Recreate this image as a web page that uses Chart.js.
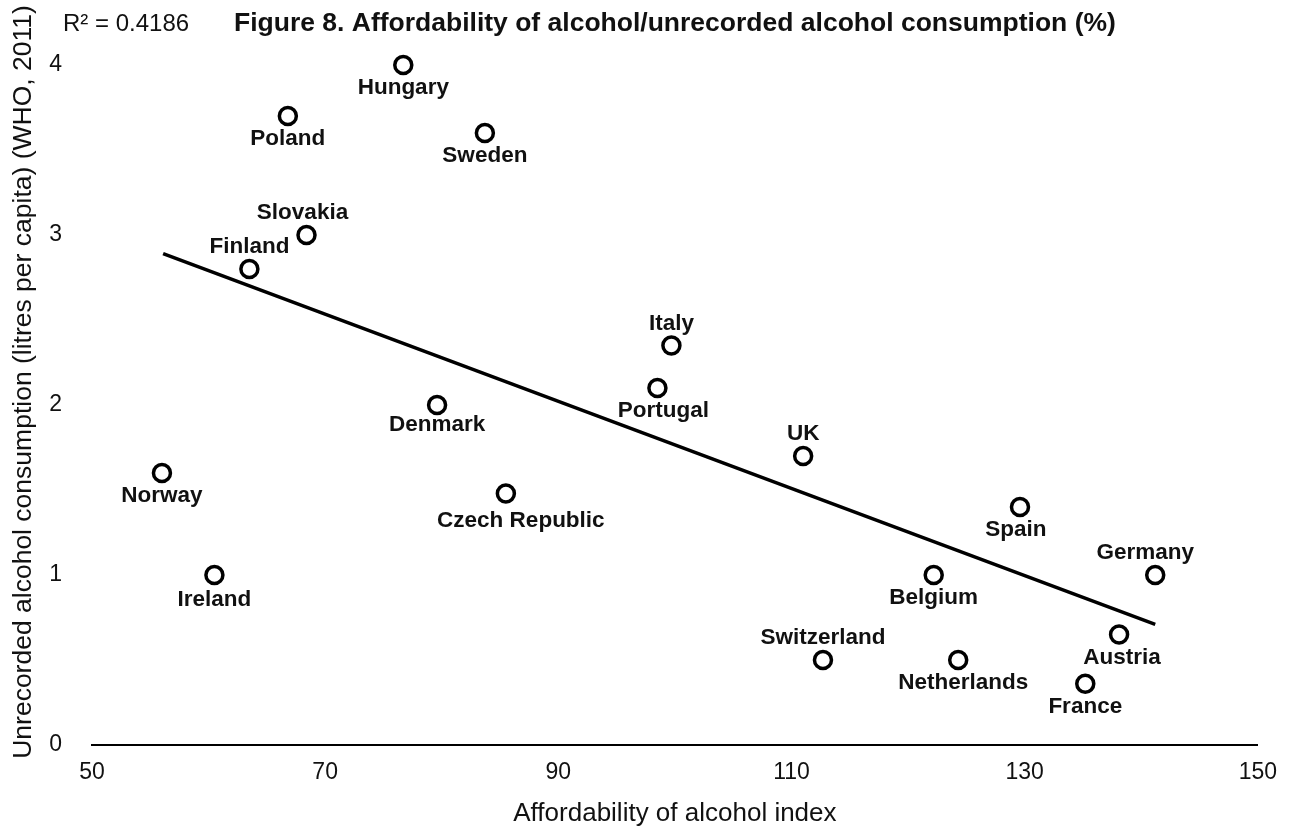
<!DOCTYPE html>
<html>
<head>
<meta charset="utf-8">
<script src="https://cdn.jsdelivr.net/npm/chart.js@4.4.0/dist/chart.umd.min.js"></script>
<style>
  html, body { margin: 0; padding: 0; background: #fff; }
  #wrap { width: 1291px; height: 827px; }
</style>
</head>
<body>
<div id="wrap"><canvas id="affordabilityChart"></canvas></div>
<script>
// data
const countries = ['Hungary', 'Poland', 'Sweden', 'Slovakia', 'Finland', 'Italy', 'Portugal', 'Denmark', 'UK',
  'Norway', 'Czech Republic', 'Spain', 'Ireland', 'Belgium', 'Germany', 'Austria', 'Switzerland', 'Netherlands', 'France'];
const affordability = [76.7, 66.8, 83.7, 68.4, 63.5, 99.7, 98.5, 79.6, 111.0,
  56.0, 85.5, 129.6, 60.5, 122.2, 141.2, 138.1, 112.7, 124.3, 135.2];
const unrecorded = [4.0, 3.7, 3.6, 3.0, 2.8, 2.35, 2.1, 2.0, 1.7,
  1.6, 1.48, 1.4, 1.0, 1.0, 1.0, 0.65, 0.5, 0.5, 0.36];
const trendX = [56.1, 141.2];
const trendY = [2.89, 0.71];
const xTicks = [50, 70, 90, 110, 130, 150];
const yTicks = [0, 1, 2, 3, 4];
const chartTitle = 'Figure 8. Affordability of alcohol/unrecorded alcohol consumption (%)';
const rSquared = 'R² = 0.4186';
const xTitle = 'Affordability of alcohol index';
const yTitle = 'Unrecorded alcohol consumption (litres per capita) (WHO, 2011)';

const FONT = '"Liberation Sans", Arial, Helvetica, sans-serif';
const INK = '#111';

// where each name sits relative to its marker
const labelPlace = {
  'Slovakia': { up: true, dx: -4 },
  'Finland': { up: true },
  'Italy': { up: true },
  'UK': { up: true },
  'Germany': { up: true, dx: -10 },
  'Switzerland': { up: true },
  'Czech Republic': { dx: 15, dy: 5 },
  'Denmark': { dy: -3 },
  'Netherlands': { dx: 5 },
  'Portugal': { dx: 6 },
  'Spain': { dx: -4 },
  'Austria': { dx: 3 },
  'Ireland': { dy: 2 }
};

const pointLabels = {
  id: 'pointLabels',
  afterDatasetsDraw(chart) {
    const ctx = chart.ctx;
    const meta = chart.getDatasetMeta(1);
    ctx.save();
    ctx.font = 'bold 22.5px ' + FONT;
    ctx.fillStyle = INK;
    ctx.textAlign = 'center';
    ctx.textBaseline = 'alphabetic';
    meta.data.forEach((pt, i) => {
      const p = labelPlace[countries[i]] || {};
      const dy = (p.up ? -16 : 29) + (p.dy || 0);
      ctx.fillText(countries[i], pt.x + (p.dx || 0), pt.y + dy);
    });
    ctx.restore();
  }
};

const titles = {
  id: 'titles',
  afterDraw(chart) {
    const ctx = chart.ctx;
    const area = chart.chartArea;
    ctx.save();
    ctx.fillStyle = INK;
    ctx.textBaseline = 'alphabetic';
    ctx.textAlign = 'center';
    ctx.font = 'bold 26.5px ' + FONT;
    ctx.fillText(chartTitle, (area.left + area.right) / 2, 31);
    ctx.textAlign = 'left';
    ctx.font = '24px ' + FONT;
    ctx.fillText(rSquared, 63, 31);
    ctx.textAlign = 'center';
    ctx.font = '26px ' + FONT;
    ctx.fillText(xTitle, (area.left + area.right) / 2, 821);
    ctx.font = '26.5px ' + FONT;
    ctx.translate(31, 382);
    ctx.rotate(-Math.PI / 2);
    ctx.fillText(yTitle, 0, 0);
    ctx.restore();
  }
};

new Chart(document.getElementById('affordabilityChart'), {
  type: 'scatter',
  data: {
    datasets: [{
      type: 'line',
      data: trendX.map((x, i) => ({ x: x, y: trendY[i] })),
      borderColor: '#000',
      borderWidth: 3.5,
      pointRadius: 0,
      fill: false,
      order: 2
    }, {
      data: affordability.map((x, i) => ({ x: x, y: unrecorded[i] })),
      pointRadius: 8.5,
      pointBorderWidth: 3.5,
      pointBackgroundColor: '#fff',
      pointBorderColor: '#000',
      clip: false,
      order: 1
    }]
  },
  options: {
    responsive: true,
    maintainAspectRatio: false,
    animation: false,
    layout: { padding: { top: 65, right: 33, left: 0, bottom: 0 } },
    plugins: {
      legend: { display: false },
      tooltip: { enabled: false },
      title: { display: false }
    },
    scales: {
      x: {
        type: 'linear',
        min: 50,
        max: 150,
        afterBuildTicks: s => { s.ticks = xTicks.map(v => ({ value: v })); },
        afterFit: s => { s.height = 82; },
        grid: { display: false, drawTicks: false },
        border: { display: true, color: '#000', width: 2 },
        ticks: { padding: 14, color: INK, font: { family: FONT, size: 23 } }
      },
      y: {
        type: 'linear',
        min: 0,
        max: 4,
        afterBuildTicks: s => { s.ticks = yTicks.map(v => ({ value: v })); },
        afterFit: s => { s.width = 92; },
        grid: { display: false, drawTicks: false },
        border: { display: false },
        ticks: { padding: 30, color: INK, font: { family: FONT, size: 23 } }
      }
    }
  },
  plugins: [pointLabels, titles]
});
</script>
</body>
</html>
